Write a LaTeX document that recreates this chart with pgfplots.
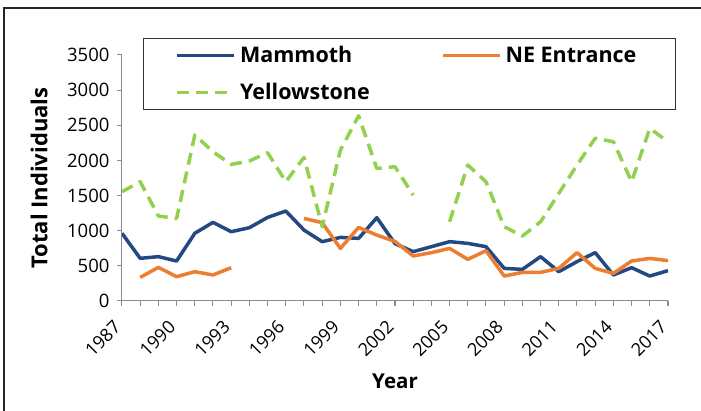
\documentclass[border=0pt]{standalone}
\usepackage{fontspec}
\setmainfont{Open Sans}
\usepackage{pgfplots}
\usepackage{pgfplotstable}
\pgfplotsset{compat=1.18}
\definecolor{mblue}{RGB}{35,72,130}
\definecolor{neorange}{RGB}{237,125,49}
\definecolor{ygreen}{RGB}{146,208,80}

\pgfplotstableread{
year mammoth ne yellow
1987 963 nan 1555
1988 607 336 1697
1989 631 478 1208
1990 569 346 1175
1991 963 417 2361
1992 1119 370 2123
1993 986 474 1944
1994 1043 nan 1992
1995 1189 nan 2110
1996 1280 nan 1697
1997 1009 1175 2042
1998 844 1114 1057
1999 905 748 2147
2000 891 1047 2635
2001 1185 938 1886
2002 816 847 1910
2003 702 640 1507
2004 773 688 nan
2005 844 748 1128
2006 820 593 1934
2007 773 715 1697
2008 464 355 1057
2009 450 407 924
2010 631 407 1128
2011 417 464 1531
2012 560 688 1934
2013 688 464 2315
2014 370 393 2266
2015 474 569 1697
2016 355 606 2456
2017 432 574 2266
}\datatable

\begin{document}
\begin{tikzpicture}[x=1pt,y=1pt]
\useasboundingbox (0,0) rectangle (701,411);
\draw[line width=1.5pt, black!85] (4,0) -- (4,403) -- (701,403);
\begin{axis}[
  at={(122pt,110pt)}, anchor=south west,
  scale only axis, width=546pt, height=246pt,
  xmin=1987, xmax=2017, ymin=0, ymax=3500,
  axis x line*=bottom, axis y line*=left,
  axis line style={black!45, line width=1pt},
  xtick={1987,1990,...,2017},
  minor xtick={1987,...,2017},
  ytick={0,500,...,3500},
  tick align=outside,
  major tick length=5pt, minor tick length=5pt,
  every tick/.style={black!45, line width=1pt},
  every minor tick/.style={black!45, line width=1pt},
  /pgf/number format/assume math mode=true,
  /pgf/number format/1000 sep={},
  xticklabel style={rotate=45, anchor=east, font=\fontsize{18}{19}\selectfont, xshift=-12.5pt, yshift=-9.5pt},
  yticklabel style={font=\fontsize{18.5}{20}\selectfont, xshift=-4pt},
  xlabel={Year}, ylabel={Total Individuals},
  xlabel style={font=\bfseries\fontsize{20.5}{22}\selectfont, at={(axis description cs:0.5,-0.325)}, anchor=center},
  ylabel style={font=\bfseries\fontsize{22}{24}\selectfont, at={(axis description cs:-0.152,0.5)}, anchor=center},
  unbounded coords=jump,
  legend columns=2,
  legend image code/.code={\draw[#1] (0pt,0pt) -- (57pt,0pt);},
  legend style={at={(axis description cs:0.0385,1.069)}, anchor=north west,
    draw=black!80, line width=1.2pt, inner xsep=32pt, inner ysep=7pt,
    nodes={inner xsep=0pt, inner ysep=1pt},
    row sep=17pt,
    font=\bfseries\fontsize{21.5}{23}\selectfont,
    /tikz/every odd column/.append style={column sep=4pt}},
]
\addplot[mblue, line width=3.5pt, line join=round] table[x=year, y=mammoth] {\datatable};
\addlegendentry{\makebox[201pt][l]{Mammoth}}
\addplot[neorange, line width=3.5pt, line join=round] table[x=year, y=ne] {\datatable};
\addlegendentry{\makebox[138pt][l]{NE Entrance}}
\addplot[ygreen, line width=3.5pt, line join=round, dash pattern=on 12pt off 7pt] table[x=year, y=yellow] {\datatable};
\addlegendentry{\makebox[201pt][l]{Yellowstone}}
\end{axis}
\end{tikzpicture}
\end{document}
